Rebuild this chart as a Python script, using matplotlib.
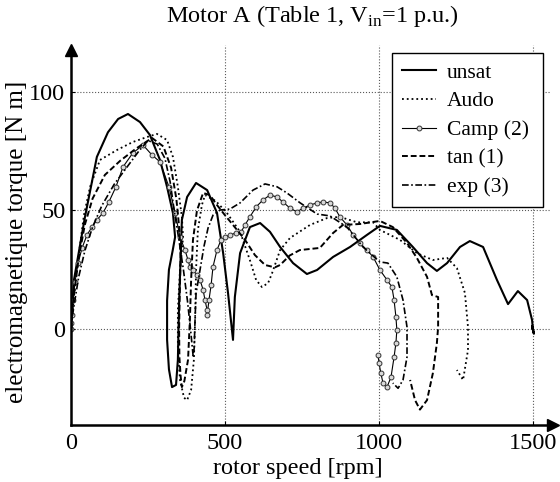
import numpy as np
import matplotlib
matplotlib.use('Agg')
from matplotlib import pyplot as plt

plt.rcParams['font.family'] = ['Liberation Serif', 'DejaVu Serif']
plt.rcParams['mathtext.fontset'] = 'custom'
plt.rcParams['mathtext.rm'] = 'Liberation Serif'

# rotor speed [rpm], torque [N m] traced along each trajectory
unsat_speed = [0, 3, 10, 45, 84, 120, 153, 185, 224, 256, 289, 312, 331, 338, 330, 318, 312, 312,
               318, 328, 341, 347, 351, 360, 377, 406, 442, 474, 494, 510, 526, 532, 549, 581,
               614, 646, 679, 721, 766, 799, 851, 906, 961, 1003, 1058, 1110, 1156, 1188, 1221,
               1263, 1295, 1338, 1383, 1419, 1451, 1481, 1497, 1500, 1503, 1497, 1501]
unsat_torque = [0, 8, 21, 47, 72.6, 83, 88.6, 90.7, 87.3, 81.9, 71.3, 59.9, 48.9, 38.8, 33, 25,
                12, -4.6, -17, -24.5, -23.6, -13, 11, 46, 55.7, 61.6, 58.6, 49, 32, 15, -4.6,
                13.5, 32, 43, 44.7, 41, 34.6, 27.8, 23.2, 24.9, 30.4, 34.6, 39.7, 43.5, 41.8,
                34.6, 27.8, 24.5, 27.8, 34.6, 37.1, 34.6, 20.7, 10.5, 16, 12.2, 3.8, -0.4, -2,
                1.3, -1]

audo_speed = [0, 4, 10, 23, 42, 62, 94, 149, 201, 247, 279, 312, 331, 347, 360, 364, 354, 347,
              347, 354, 367, 377, 390, 399, 403, 406, 412, 425, 435, 470, 506, 549, 581, 601,
              620, 640, 653, 679, 711, 776, 831, 873, 929, 981, 1003, 1068, 1123, 1175, 1221,
              1253, 1279, 1289, 1289, 1273, 1253]
audo_torque = [0, 6, 14, 29, 48, 60, 71.3, 75.5, 78.9, 81, 82.3, 79.7, 72.6, 60, 47.3, 38.8, 25,
               8, -8.9, -21.5, -29, -30, -25.7, -13, 3.8, 25, 41.8, 52.3, 56.5, 54, 49, 41, 29,
               20.7, 17.7, 19.4, 23.6, 33.3, 38.4, 43.9, 46.8, 47.3, 45, 45, 41.8, 37.6, 32,
               29.1, 30, 25.7, 15.2, 0.8, -8.9, -21.5, -17.3]

camp_speed = [0, 0, 3, 6, 13, 23, 36, 52, 68, 84, 104, 123, 146, 169, 201, 234, 263, 289, 318,
              338, 354, 370, 380, 386, 396, 409, 419, 429, 435, 442, 442, 448, 455, 461, 474,
              487, 500, 516, 536, 552, 565, 581, 601, 623, 646, 669, 688, 711, 734, 753, 776,
              799, 818, 841, 857, 873, 896, 916, 938, 961, 981, 1003, 1026, 1042, 1049, 1055,
              1058, 1055, 1049, 1039, 1026, 1013, 1006, 1000, 997]
camp_torque = [0, 2.5, 5.9, 12.2, 19.8, 27.8, 34.2, 39.7, 43, 46, 49, 53.6, 60, 68.4, 74.3, 77.6,
               73.4, 70.5, 60, 49, 38.8, 33.3, 29.1, 26.2, 24.9, 22.8, 20.7, 16.5, 12.2, 8, 5.9,
               12.2, 18.6, 26.2, 33.3, 37.6, 38.8, 39.7, 40.5, 40.9, 43.9, 47.3, 51.5, 54.4,
               56.5, 55.7, 53.6, 51, 49.4, 51, 52.3, 53.2, 53.6, 53.2, 51, 47.3, 43.9, 39.7,
               36.3, 33.3, 30.4, 24.9, 20.7, 17.7, 12.2, 5, -0.4, -5.9, -11.8, -20.3, -24.5,
               -22.8, -18.6, -14.3, -11]

tan_speed = [0, 4, 10, 25, 45, 70, 110, 160, 210, 263, 300, 325, 342, 352, 356, 353, 351, 352,
             356, 360, 368, 380, 386, 390, 396, 409, 429, 451, 474, 500, 526, 565, 597, 630,
             662, 679, 710, 743, 808, 851, 883, 938, 1003, 1045, 1091, 1123, 1156, 1172, 1192,
             1192, 1188, 1175, 1156, 1133, 1117, 1101]
tan_torque = [0, 7, 15, 30, 44, 55, 65, 71, 76, 80.6, 77, 68, 55, 42, 30, 15, 0, -12, -20, -24.5,
              -22, -13, 3.8, 20.7, 37.6, 50, 57.4, 56.5, 52.3, 48, 43.9, 37.6, 31.2, 27, 26,
              27, 31, 33.3, 34.2, 40.5, 43.9, 44.3, 45.6, 43, 36.3, 30, 22, 14.3, 13.5, 0.8,
              -5.9, -18.6, -30, -34, -30, -21.5]

exp_speed = [0, 4, 10, 25, 45, 70, 100, 140, 180, 220, 250, 280, 305, 322, 335, 350, 365, 378,
             388, 394, 397, 400, 403, 406, 419, 432, 445, 461, 484, 516, 549, 591, 630, 669,
             701, 744, 799, 841, 896, 948, 1003, 1029, 1058, 1078, 1091, 1091, 1078, 1062, 1045]
exp_torque = [0, 5, 10, 22, 33, 43, 52, 61, 68, 75, 79.5, 78, 72, 62, 50, 38, 25, 12, 0, -8, -12,
              -8, 5, 15, 25, 35, 42.6, 48, 50.2, 50.6, 53.2, 58.6, 61.2, 60, 57.4, 53.2, 48.5,
              47.7, 43, 34.6, 28.3, 27.8, 22, 12.2, 0.8, -11.8, -21.5, -25, -22.8]

legend_labels = ['unsat', 'Audo', 'Camp (2)', 'tan (1)', 'exp (3)']
x_ticks = [0, 500, 1000, 1500]
y_ticks = [0, 50, 100]

fig = plt.figure(figsize=(5.6, 4.82), dpi=100)
ax = fig.add_axes([71/560, 57/482, (553-71)/560, (425-50)/482])

# grid drawn by hand so it stops where the original does
for xt in x_ticks[1:]:
    ax.plot([xt, xt], [-40.5, 120], ':', color='0.35', lw=0.8, clip_on=False, zorder=0)
for yt in y_ticks:
    ax.plot([0, 1555], [yt, yt], ':', color='0.35', lw=0.8, clip_on=False, zorder=0)

k = 'black'
ax.plot(unsat_speed, unsat_torque, '-', color=k, lw=1.5, label=legend_labels[0])
ax.plot(audo_speed, audo_torque, ':', color=k, lw=1.3, label=legend_labels[1])
ax.plot(camp_speed, camp_torque, '-o', color=k, lw=0.8, ms=3.5, mfc='0.85', mec='0.2',
        mew=0.7, label=legend_labels[2])
ax.plot(tan_speed, tan_torque, '--', color=k, lw=1.4, dashes=(3, 1.5), label=legend_labels[3])
ax.plot(exp_speed, exp_torque, '-.', color=k, lw=1.2, dashes=(4, 1.5, 1, 1.5),
        label=legend_labels[4])

ax.set_xlim(0, 1565)
ax.set_ylim(-40.5, 117.7)
ax.set_xticks(x_ticks)
ax.set_yticks(y_ticks)
ax.tick_params(direction='in', length=3, labelsize=17.5)
ax.tick_params(axis='x', pad=6)
ax.tick_params(axis='y', pad=4)
ax.spines['top'].set_visible(False)
ax.spines['right'].set_visible(False)
ax.spines['left'].set_linewidth(1.8)
ax.spines['bottom'].set_linewidth(1.8)
ax.plot(1.0, 0, '>', color=k, ms=8, transform=ax.transAxes, clip_on=False)
ax.plot(0, 1.0, '^', color=k, ms=8, transform=ax.transAxes, clip_on=False)

ax.set_xlabel('rotor speed [rpm]', fontsize=17.5)
ax.xaxis.set_label_coords(0.47, -0.087)
ax.set_ylabel('electromagnetique torque [N m]', fontsize=18)
ax.yaxis.set_label_coords(-0.09, 0.488)
fig.text(312/560, 1 - 16/482, r'Motor A (Table 1, V$_{\rm in}$=1 p.u.)', fontsize=17.5,
         ha='center', va='center')

leg_box = ((392-71)/482, (425-192)/375, (543-392)/482, (192-53)/375)
leg = ax.legend(loc='upper left', bbox_to_anchor=leg_box, mode='expand', fontsize=15.5,
                frameon=True, fancybox=False, edgecolor='black', framealpha=1,
                handlelength=1.6, handletextpad=0.5, borderaxespad=0, labelspacing=0.4,
                borderpad=0.45)
leg.get_frame().set_linewidth(1.0)

fig.savefig('out.png', dpi=100)
